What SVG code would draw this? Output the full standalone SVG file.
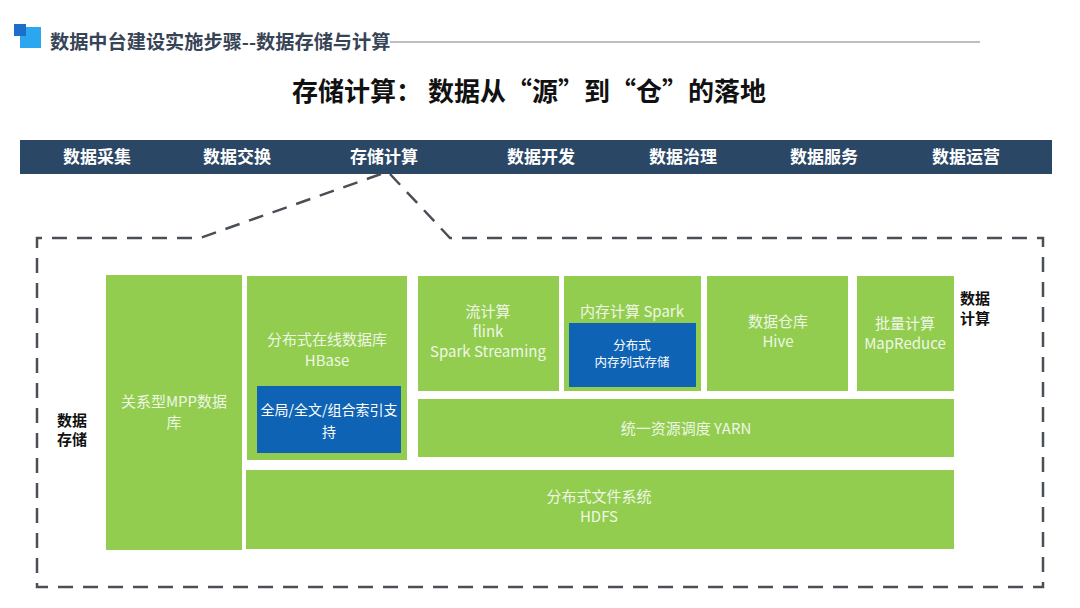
<svg xmlns="http://www.w3.org/2000/svg" width="1080" height="608" viewBox="0 0 1080 608">
<style>
.cjk{font-family:"Noto Sans CJK SC","Noto Sans",sans-serif}
.nav{font-size:17px;font-weight:bold;fill:#ffffff;text-anchor:middle}
.g{fill:#92cd50}
.b{fill:#0f63b5}
.gt{font-size:15px;fill:#eef7e4;text-anchor:middle}
.wt{font-size:14px;fill:#ffffff;text-anchor:middle}
.bt{font-size:12.5px;fill:#ffffff;text-anchor:middle}
.lbl{font-size:15px;font-weight:bold;fill:#111111}
.dash{fill:none;stroke:#4a4f57;stroke-width:2.5;stroke-dasharray:15 10}
</style>
<rect width="1080" height="608" fill="#ffffff"/>
<g id="header">
<rect x="20" y="27" width="21" height="21" fill="#2aa7ee"/>
<rect x="14" y="24" width="12" height="12" fill="#1c6fc9"/>
<line x1="390" y1="42" x2="980" y2="42" stroke="#7a7f86" stroke-width="1.2"/>
<text x="50" y="49" class="cjk" font-size="19.2" font-weight="bold" fill="#374456">数据中台建设实施步骤--数据存储与计算</text>
<text x="529" y="101" class="cjk" font-size="26" font-weight="bold" fill="#111111" text-anchor="middle">存储计算： 数据从“源”到“仓”的落地</text>
</g>
<g id="navbar">
<rect x="20" y="140" width="1032" height="34" fill="#2b4766"/>
<text x="97" y="163" class="cjk nav">数据采集</text>
<text x="237" y="163" class="cjk nav">数据交换</text>
<text x="384" y="163" class="cjk nav">存储计算</text>
<text x="541" y="163" class="cjk nav">数据开发</text>
<text x="683" y="163" class="cjk nav">数据治理</text>
<text x="824" y="163" class="cjk nav">数据服务</text>
<text x="966" y="163" class="cjk nav">数据运营</text>
</g>
<g id="connectors">
<path class="dash" d="M381 174 L200 238 L37 238 L37 587 L1043 587 L1043 238 L450 238 L390 174"/>
</g>
<g id="mpp">
<rect class="g" x="106" y="275" width="136" height="275"/>
<text class="cjk gt" x="174" y="407">关系型MPP数据</text>
<text class="cjk gt" x="174" y="428">库</text>
</g>
<g id="hbase">
<rect class="g" x="247" y="276" width="160" height="184"/>
<text class="cjk gt" x="327" y="345">分布式在线数据库</text>
<text class="cjk gt" x="327" y="366">HBase</text>
<rect class="b" x="257" y="386" width="144" height="67"/>
<text class="cjk wt" x="329" y="415">全局/全文/组合索引支</text>
<text class="cjk wt" x="329" y="437">持</text>
</g>
<g id="stream">
<rect class="g" x="418" y="276" width="141" height="115"/>
<text class="cjk gt" x="488" y="317">流计算</text>
<text class="cjk gt" x="488" y="337">flink</text>
<text class="cjk gt" x="488" y="357">Spark Streaming</text>
</g>
<g id="spark">
<rect class="g" x="564" y="276" width="137" height="115"/>
<text class="cjk gt" x="632" y="317">内存计算 Spark</text>
<rect class="b" x="569" y="323" width="127" height="64"/>
<text class="cjk bt" x="632" y="350">分布式</text>
<text class="cjk bt" x="632" y="367">内存列式存储</text>
</g>
<g id="hive">
<rect class="g" x="707" y="276" width="141" height="115"/>
<text class="cjk gt" x="778" y="327">数据仓库</text>
<text class="cjk gt" x="778" y="347">Hive</text>
</g>
<g id="mapreduce">
<rect class="g" x="857" y="276" width="97" height="115"/>
<text class="cjk gt" x="905" y="329">批量计算</text>
<text class="cjk gt" x="905" y="349">MapReduce</text>
</g>
<g id="yarn">
<rect class="g" x="418" y="399" width="536" height="58"/>
<text class="cjk gt" x="686" y="434">统一资源调度 YARN</text>
</g>
<g id="hdfs">
<rect class="g" x="246" y="470" width="708" height="79"/>
<text class="cjk gt" x="599" y="502">分布式文件系统</text>
<text class="cjk gt" x="599" y="522">HDFS</text>
</g>
<g id="label-storage">
<text class="cjk lbl" x="57" y="426">数据</text>
<text class="cjk lbl" x="57" y="445">存储</text>
</g>
<g id="label-compute">
<text class="cjk lbl" x="960" y="304">数据</text>
<text class="cjk lbl" x="960" y="324">计算</text>
</g>
</svg>
